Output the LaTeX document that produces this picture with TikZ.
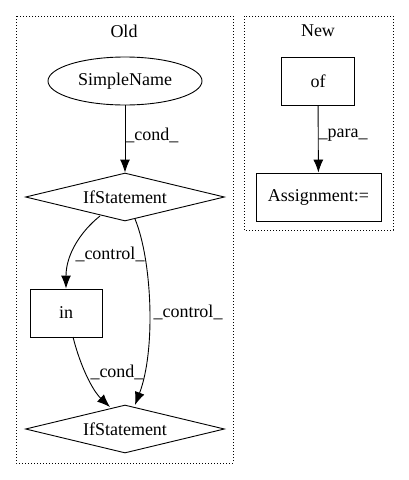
\documentclass[tikz,border=0pt]{standalone}
\usepackage{fontspec}
\setmainfont{Liberation Serif}
\usetikzlibrary{shapes.geometric,arrows.meta}
\begin{document}
\begin{tikzpicture}[x=1pt,y=-1pt,
  every node/.style={font=\fontsize{18}{20}\selectfont, inner sep=0pt},
  cluster/.style={draw, dotted, line width=1pt},
  ellnode/.style={draw, ellipse, minimum width=154pt, minimum height=48pt, line width=0.9pt},
  dia/.style={draw, diamond, aspect=4.15, minimum width=199pt, minimum height=48pt, line width=0.9pt},
  boxnode/.style={draw, rectangle, minimum height=48pt, line width=0.9pt},
  edge/.style={-{Latex[length=13pt,width=10pt]}, line width=0.9pt},
  lbl/.style={font=\fontsize{18}{20}\selectfont}]
\useasboundingbox (0,0) rectangle (408,480);
\draw[cluster] (16,16) rectangle (233,463);
\draw[cluster] (244,16) rectangle (393,230);
\node (oldlbl) at (124,31) {Old};
\node (newlbl) at (318,31) {New};
\node[ellnode] (sn) at (125,81) {SimpleName};
\node[dia] (if1) at (125,197) {IfStatement};
\node[boxnode, minimum width=72pt] (in) at (66,313) {in};
\node[dia] (if2) at (125,429) {IfStatement};
\node[boxnode, minimum width=73pt] (of) at (318,81) {of};
\node[boxnode, minimum width=125pt] (asg) at (318.5,197) {Assignment:=};
\draw[edge] (sn) -- (if1) node[lbl, pos=0.45, right=0pt] {\_cond\_};
\draw[edge] (100,216) .. controls (80,232) and (66,255) .. (in.north);
\node[lbl] (c1) at (110,254) {\_control\_};
\draw[edge] (135,219) .. controls (152,260) and (156,350) .. (135,405);
\node[lbl] (c2) at (188,312) {\_control\_};
\draw[edge] (73,337) .. controls (80,365) and (92,390) .. (110,407);
\node[lbl] (c3) at (117,372) {\_cond\_};
\draw[edge] (of) -- (asg) node[lbl, pos=0.45, right=0pt] {\_para\_};
\end{tikzpicture}
\end{document}
